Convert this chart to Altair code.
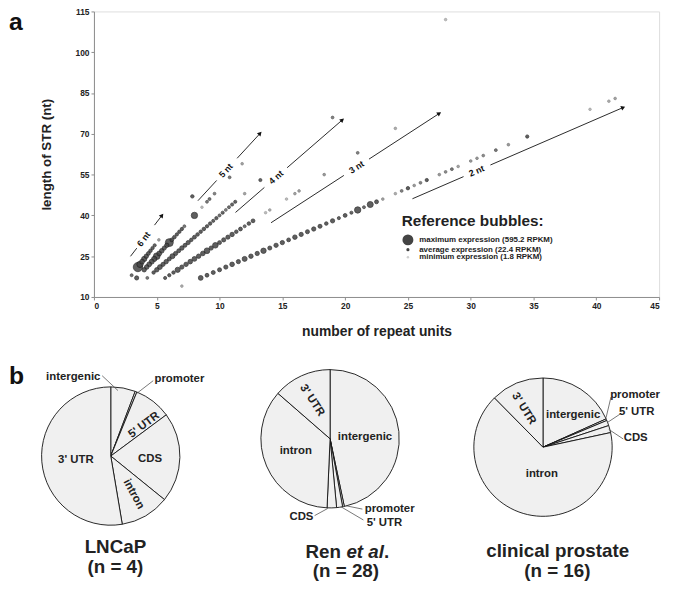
import math
import altair as alt
import pandas as pd

FONT = "Liberation Sans"

# ---------------- panel a : STR bubbles ----------------
len_2nt = [14, 17, 18, 19, 20, 21, 22, 23, 24, 25, 26, 27, 28, 29, 30, 31, 32, 33, 34, 35, 36, 37, 38, 39, 40,
           41, 42, 43, 44, 45, 46, 48, 49, 50, 51, 52, 53, 55, 56, 57, 58, 60, 61, 62, 64, 66, 69, 79, 82, 83]
rpkm_2nt = [4, 90, 45, 50, 55, 60, 80, 60, 100, 70, 65, 120, 55, 65, 65, 45, 75, 65, 55, 65, 55, 35, 65, 20, 45,
            20, 180, 15, 160, 50, 5, 4, 10, 30, 6, 10, 25, 6, 8, 12, 5, 6, 6, 8, 12, 6, 25, 3, 4, 5]
len_3nt = [17, 18, 19, 20, 21, 22, 23, 24, 25, 26, 27, 28, 29, 30, 31, 32, 33, 34, 35, 36, 37, 38,
           41, 42, 46, 48, 49, 55, 63, 72]
rpkm_3nt = [20, 25, 30, 110, 60, 70, 80, 90, 70, 80, 140, 60, 130, 50, 60, 60, 70, 35, 45, 15, 35, 45,
            3, 4, 3, 5, 5, 6, 10, 4]
len_4nt = [17, 19, 20, 21, 22, 23, 24, 25, 26, 27, 28, 29, 30, 31, 32, 33, 34, 35, 36, 37, 38, 39, 40,
           41, 42, 43, 44, 45, 48, 53, 76, 112]
rpkm_4nt = [12, 30, 70, 90, 60, 70, 50, 100, 60, 50, 70, 50, 60, 35, 45, 35, 30, 35, 25, 30, 20, 25, 15,
            20, 10, 15, 20, 20, 5, 20, 10, 3]
len_5nt = [17, 20, 21, 22, 23, 24, 25, 26, 27, 28, 29, 30, 31, 32, 33, 34, 35, 36, 40, 43, 45, 46, 48, 54, 59]
rpkm_5nt = [60, 70, 80, 90, 100, 110, 200, 90, 80, 60, 70, 300, 45, 35, 25, 30, 25, 12, 180, 3, 12, 15, 10, 12, 5]
len_6nt = [18, 21, 22, 23, 24, 25, 26, 27, 28, 29, 31, 47]
rpkm_6nt = [15, 420, 180, 90, 110, 70, 45, 35, 25, 20, 5, 30]

x_ticks = [0, 5, 10, 15, 20, 25, 30, 35, 40, 45]
y_ticks = [10, 25, 40, 55, 70, 85, 100, 115]

# guide arrows: motif, intercept, x start, gap start, label x, gap end, x end
arrow_motif = [6, 5, 4, 3, 2]
arrow_c = [7.5, 4.0, -4.0, -5.0, -4.6]
arrow_xs = [2.91, 8.28, 11.27, 14.1, 25.36]
arrow_g1 = [3.41, 9.77, 13.57, 19.9, 29.43]
arrow_lab = [3.96, 10.5, 14.5, 20.9, 30.47]
arrow_g2 = [4.82, 11.4, 15.38, 21.9, 31.57]
arrow_xe = [5.42, 13.23, 19.78, 27.5, 42.14]

ref_rpkm = [595.2, 22.4, 1.8]
ref_text = ["maximum expression (595.2 RPKM)", "average expression (22.4 RPKM)",
            "minimum expression (1.8 RPKM)"]
ref_y = [31.0, 27.4, 24.6]

# ---------------- panel b : pies ----------------
regions = ["intergenic", "promoter", "5' UTR", "CDS", "intron", "3' UTR"]
pct_lncap = [5.75, 0.42, 8.67, 21.0, 11.5, 52.66]
pct_ren = [46.7, 0.4, 1.4, 2.2, 35.7, 13.6]
pct_clin = [18.3, 0.4, 1.25, 1.67, 66.0, 12.38]

# layout (page pixels)
OX, OY = 95, 8
W, H = 572, 289
pie_centers = [(112, 458), (334, 440.5), (549.5, 449)]
R = 70

# pie labels: text, page x, page y, rotation
pie_labels = [
    ("intergenic", 74, 378.5, 0), ("promoter", 181.5, 380, 0), ("5' UTR", 145.7, 426.7, 323),
    ("CDS", 151.7, 461, 0), ("intron", 135, 496.7, 62), ("3' UTR", 76.7, 461.7, 0),
    ("3' UTR", 315.7, 401.7, 57), ("intergenic", 369.3, 438.3, 0), ("intron", 299.3, 453.3, 0),
    ("CDS", 305, 519.3, 0), ("promoter", 394.3, 511.7, 0), ("5' UTR", 389, 526, 0),
    ("3' UTR", 530, 410, 58), ("intergenic", 580, 416.7, 0), ("intron", 548.3, 476.7, 0),
    ("promoter", 642.7, 396.7, 0), ("5' UTR", 644.3, 413.3, 0), ("CDS", 643.3, 440, 0),
]
leaders = [
    (103.3, 376.7, 119.3, 391.7), (155, 381.7, 136.5, 396),
    (318.3, 518.3, 331.7, 511), (366.7, 511.7, 350, 508.3), (367.7, 522.7, 345, 509.3),
    (618.3, 398.3, 613.3, 419.3), (628.3, 415, 614.3, 424.3), (630.7, 440.7, 616, 431),
]
titles = [("LNCaP", 116.7, 550), ("(n = 4)", 116.7, 570),
          ("(n = 28)", 350, 574.5), ("clinical prostate", 564.3, 554.3), ("(n = 16)", 564, 574.5)]

# ---------------- build tables ----------------
rows = []
for k, lens, vals in [(2, len_2nt, rpkm_2nt), (3, len_3nt, rpkm_3nt), (4, len_4nt, rpkm_4nt),
                      (5, len_5nt, rpkm_5nt), (6, len_6nt, rpkm_6nt)]:
    assert len(lens) == len(vals)
    for L, v in zip(lens, vals):
        rows.append({"motif": k, "length": L, "rpkm": v})
df_pts = pd.DataFrame(rows)

px_per_x = W / 45.0
px_per_y = H / 105.0
seg_rows, head_rows, lab_rows = [], [], []
for k, c, xs_, g1, lab, g2, xe in zip(arrow_motif, arrow_c, arrow_xs, arrow_g1, arrow_lab, arrow_g2, arrow_xe):
    alpha = math.degrees(math.atan(k * px_per_y / px_per_x))
    seg_rows.append({"x": xs_, "y": k * xs_ + c, "x2": g1, "y2": k * g1 + c})
    seg_rows.append({"x": g2, "y": k * g2 + c, "x2": xe, "y2": k * xe + c})
    head_rows.append({"x": xe, "y": k * xe + c, "ang": 360 - alpha})
    lab_rows.append({"x": lab, "y": k * lab + c, "ang": 360 - alpha, "t": f"{k} nt"})
df_seg = pd.DataFrame(seg_rows)
df_head = pd.DataFrame(head_rows)
df_lab = pd.DataFrame(lab_rows)
df_ref = pd.DataFrame({"x": [25.0] * 3, "y": ref_y, "rpkm": ref_rpkm, "t": ref_text, "xt": [25.9] * 3})

xs = alt.Scale(domain=[0, 45], nice=False, zero=False)
ys = alt.Scale(domain=[10, 115], nice=False, zero=False)
size_scale = alt.Scale(domain=[0, 595.2], range=[6, 122])
color_scale = alt.Scale(type="log", domain=[1.8, 22.4], range=["#cfcfcf", "#444444"], clamp=True)
stroke_scale = alt.Scale(type="log", domain=[1.8, 22.4], range=["#b5b5b5", "#1e1e1e"], clamp=True)

axis_common = dict(labelFont=FONT, labelFontSize=8.5, labelFontWeight="bold", labelColor="#222",
                   titleFont=FONT, titleFontWeight="bold", titleColor="#222", grid=False,
                   domainColor="#8c8c8c", tickColor="#8c8c8c", tickSize=3, labelPadding=2)
xaxis = alt.Axis(values=x_ticks, title="number of repeat units", titleFontSize=14, titlePadding=14,
                 **axis_common)
yaxis = alt.Axis(values=y_ticks, title="length of STR (nt)", titleFontSize=13.5, titlePadding=22,
                 **axis_common)

X = alt.X("x:Q", scale=xs, axis=xaxis)
Y = alt.Y("y:Q", scale=ys, axis=yaxis)

points = alt.Chart(df_pts).transform_calculate(x="datum.length / datum.motif", y="datum.length").mark_circle(
    opacity=0.85, strokeWidth=0.8).encode(
    x=X, y=Y,
    size=alt.Size("rpkm:Q", scale=size_scale, legend=None),
    color=alt.Color("rpkm:Q", scale=color_scale, legend=None),
    stroke=alt.Stroke("rpkm:Q", scale=stroke_scale, legend=None),
    order=alt.Order("rpkm:Q", sort="descending"),
)
segs = alt.Chart(df_seg).mark_rule(color="#111", strokeWidth=0.9).encode(
    x=X, y=Y, x2="x2:Q", y2="y2:Q")
heads = alt.Chart(df_head).mark_point(shape="triangle-right", filled=True, color="#111", size=24,
                                      opacity=1).encode(
    x=X, y=Y, angle=alt.Angle("ang:Q", scale=None))
arrow_text = alt.Chart(df_lab).mark_text(font=FONT, fontSize=9, fontWeight="bold", color="#111",
                                         baseline="middle").encode(
    x=X, y=Y, text="t:N", angle=alt.Angle("ang:Q", scale=None))
ref_dots = alt.Chart(df_ref).mark_circle(opacity=1).encode(
    x=X, y=Y,
    size=alt.Size("rpkm:Q", scale=size_scale, legend=None),
    color=alt.Color("rpkm:Q", scale=color_scale, legend=None))
ref_labels = alt.Chart(df_ref).transform_calculate(x="datum.xt").mark_text(
    font=FONT, fontSize=8, fontWeight="bold", color="#222", align="left", baseline="middle").encode(
    x=X, y=Y, text="t:N")
ref_title = alt.Chart(pd.DataFrame({"x": [24.5], "y": [37.8], "t": ["Reference bubbles:"]})).mark_text(
    font=FONT, fontSize=15.5, fontWeight="bold", color="#222", align="left", baseline="middle").encode(
    x=X, y=Y, text="t:N")

top = alt.layer(points, segs, heads, arrow_text, ref_dots, ref_labels, ref_title)


def rel(px, py):
    return px - OX, py - OY


# identity pixel scales for the annotation layer (relative to the plot origin)
PXS = alt.Scale(domain=[0, W], range=[0, W], nice=False, zero=False)
PYS = alt.Scale(domain=[0, H], range=[0, H], nice=False, zero=False)
PX = alt.X("px:Q", scale=PXS, axis=None)
PY = alt.Y("py:Q", scale=PYS, axis=None)

pie_layers = []
for (cx, cy), pct in zip(pie_centers, [pct_lncap, pct_ren, pct_clin]):
    d = pd.DataFrame({"region": regions, "pct": pct, "idx": list(range(len(regions)))})
    rx, ry = rel(cx, cy)
    pie_layers.append(
        alt.Chart(d).mark_arc(outerRadius=R, fill="#f0f0f0", stroke="#111", strokeWidth=0.9).encode(
            theta=alt.Theta("pct:Q", stack=True, scale=alt.Scale(domain=[0, 100])),
            order=alt.Order("idx:Q"),
            x=alt.value(rx), y=alt.value(ry)))

df_pl = pd.DataFrame([{"t": t, "px": rel(x, y)[0], "py": rel(x, y)[1], "rot": a} for t, x, y, a in pie_labels])
pie_text = alt.Chart(df_pl).mark_text(font=FONT, fontSize=11.5, fontWeight="bold", color="#222",
                                      baseline="middle").encode(
    x=PX, y=PY, text="t:N", angle=alt.Angle("rot:Q", scale=None))

df_ld = pd.DataFrame([{"px": rel(a, b)[0], "py": rel(a, b)[1], "px2": rel(c, e)[0], "py2": rel(c, e)[1]}
                      for a, b, c, e in leaders])
lead = alt.Chart(df_ld).mark_rule(color="#555", strokeWidth=0.8).encode(
    x=PX, y=PY, x2="px2:Q", y2="py2:Q")

df_tt = pd.DataFrame([{"t": t, "px": rel(x, y)[0], "py": rel(x, y)[1]} for t, x, y in titles])
title_text = alt.Chart(df_tt).mark_text(font=FONT, fontSize=19, fontWeight="bold", color="#222",
                                        baseline="middle").encode(x=PX, y=PY, text="t:N")

# "Ren et al." with italic part
ren_y = rel(0, 555)[1]
ren_a = alt.Chart(pd.DataFrame({"t": ["Ren"], "px": [rel(345, 0)[0]], "py": [ren_y]})).mark_text(
    font=FONT, fontSize=19, fontWeight="bold", color="#222", baseline="middle", align="right").encode(
    x=PX, y=PY, text="t:N")
ren_b = alt.Chart(pd.DataFrame({"t": ["et al"], "px": [rel(350.5, 0)[0]], "py": [ren_y]})).mark_text(
    font=FONT, fontSize=19, fontWeight="bold", fontStyle="italic", color="#222", baseline="middle",
    align="left").encode(x=PX, y=PY, text="t:N")
ren_c = alt.Chart(pd.DataFrame({"t": ["."], "px": [rel(388.5, 0)[0]], "py": [ren_y]})).mark_text(
    font=FONT, fontSize=19, fontWeight="bold", color="#222", baseline="middle", align="left").encode(
    x=PX, y=PY, text="t:N")

panel_tags = pd.DataFrame({"t": ["a", "b"], "px": [rel(9, 0)[0], rel(9, 0)[0]],
                           "py": [rel(0, 19)[1], rel(0, 377)[1]]})
tags = alt.Chart(panel_tags).mark_text(font=FONT, fontSize=25, fontWeight="bold", color="#111",
                                       align="left", baseline="middle").encode(x=PX, y=PY, text="t:N")

bottom = alt.layer(*pie_layers, lead, pie_text, title_text, ren_a, ren_b, ren_c, tags)

chart = alt.layer(top, bottom).resolve_scale(
    x="independent", y="independent", theta="independent"
).properties(
    width=W, height=H,
    autosize=alt.AutoSizeParams(type="none"),
    padding={"left": 87, "top": 0, "right": 8, "bottom": 286},
).configure_view(stroke="#999", strokeWidth=1).configure(background="white")

chart.save("out.html", embed_options={"renderer": "svg", "actions": False})
